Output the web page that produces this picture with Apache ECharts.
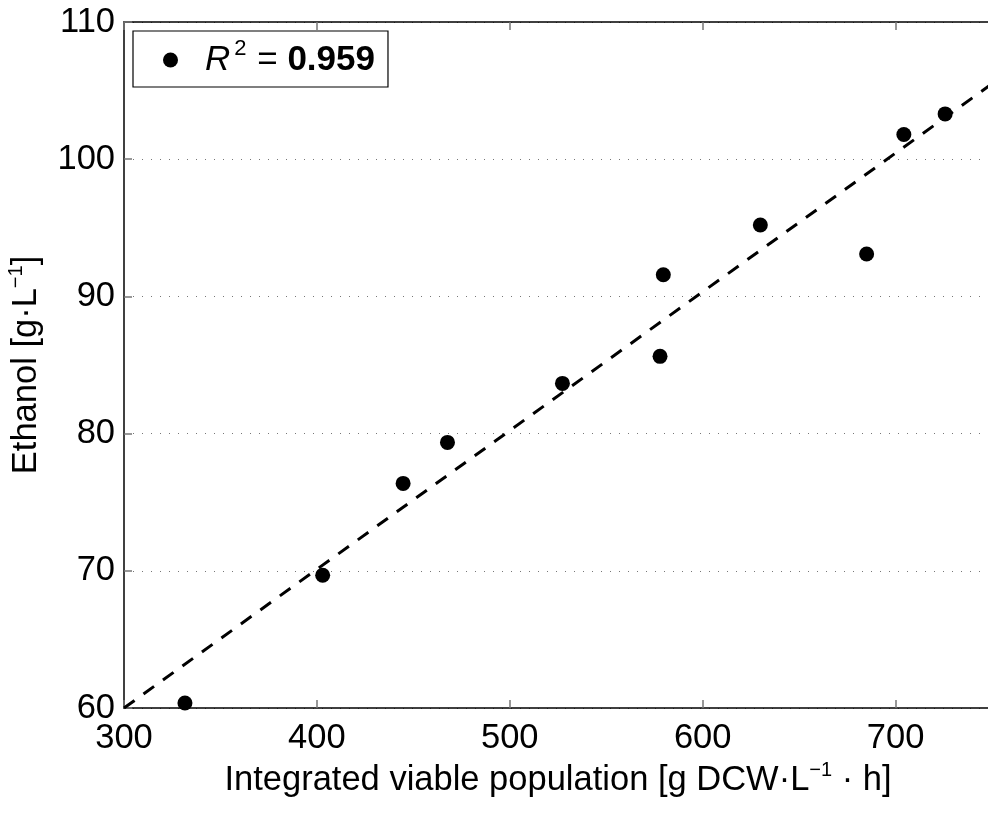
<!DOCTYPE html>
<html>
<head>
<meta charset="utf-8">
<script src="https://cdn.jsdelivr.net/npm/echarts@6/dist/echarts.min.js"></script>
<style>
html,body{margin:0;padding:0;background:#fff;}
#chart{width:988px;height:819px;}
</style>
</head>
<body>
<div id="chart"></div>
<script>
// Data
const populationX = [331.6, 403.0, 444.7, 467.7, 527.3, 577.9, 579.6, 629.9, 685.0, 704.3, 725.7];
const ethanolY    = [60.36, 69.68, 76.37, 79.36, 83.66, 85.63, 91.58, 95.20, 93.09, 101.8, 103.3];
const fitX = [300, 750];
const fitY = [60, 105.5];
const xTicks = [300, 400, 500, 600, 700];
const yTicks = [60, 70, 80, 90, 100, 110];
const r2Value = '0.959';

const FONT = "'Liberation Sans', Arial, Helvetica, sans-serif";
const FS = 34.5;

const chart = echarts.init(document.getElementById('chart'), null, {renderer: 'canvas'});

const supStyle = {fontSize: 20, lineHeight: 16, padding: [0, 0, 20, 0], verticalAlign: 'middle', fontFamily: FONT, color: '#000'};

const option = {
  animation: false,
  backgroundColor: '#fff',
  textStyle: {fontFamily: FONT},
  grid: {left: 124, top: 22, right: -4, bottom: 111, containLabel: false, outerBoundsMode: 'none'},
  legend: {
    data: ['R2'],
    left: 133, top: 31,
    orient: 'horizontal',
    backgroundColor: '#fff',
    borderColor: '#000', borderWidth: 1.2,
    padding: [7, 13, 5, 30],
    itemWidth: 15, itemHeight: 15,
    icon: 'circle',
    selectedMode: false,
    itemStyle: {color: '#000', opacity: 1},
    formatter: function () {
      return '{g|}{i|R}{sup|2}{t| = }{b|' + r2Value + '}';
    },
    textStyle: {
      fontFamily: FONT, fontSize: 34, color: '#000', lineHeight: 36,
      rich: {
        g: {width: 22, lineHeight: 36},
        i: {fontStyle: 'italic', fontSize: 35, lineHeight: 36, verticalAlign: 'middle', fontFamily: FONT, color: '#000'},
        sup: {fontSize: 22, lineHeight: 14, verticalAlign: 'middle', padding: [0, 1, 22, 4], fontFamily: FONT, color: '#000'},
        t: {fontSize: 35, lineHeight: 36, verticalAlign: 'middle', fontFamily: FONT, color: '#000'},
        b: {fontWeight: 'bold', fontSize: 35, lineHeight: 36, verticalAlign: 'middle', fontFamily: FONT, color: '#000'}
      }
    }
  },
  xAxis: [{
    type: 'value', min: 300, max: 750, interval: 100,
    position: 'bottom',
    name: 'Integrated viable population [g DCW·L{sup|−1} · h]',
    nameLocation: 'middle', nameGap: 48,
    nameTextStyle: {fontSize: FS, color: '#000', fontFamily: FONT, lineHeight: 36, verticalAlign: 'top', rich: {sup: supStyle}},
    axisLine: {show: true, onZero: false, lineStyle: {color: '#000', width: 1.5}},
    axisTick: {show: true, inside: true, length: 8, lineStyle: {color: '#777', width: 1.5}},
    axisLabel: {show: true, fontSize: FS, color: '#000', fontFamily: FONT, margin: 13,
      customValues: xTicks},
    splitLine: {show: false}
  }, {
    type: 'value', min: 300, max: 750, interval: 100,
    position: 'top',
    axisLine: {show: true, onZero: false, lineStyle: {color: '#000', width: 1.5}},
    axisTick: {show: true, inside: true, length: 8, lineStyle: {color: '#777', width: 1.5}},
    axisLabel: {show: false},
    splitLine: {show: false}
  }],
  yAxis: [{
    type: 'value', min: 60, max: 110, interval: 10,
    position: 'left',
    name: 'Ethanol [g·L{sup|−1}]',
    nameLocation: 'middle', nameGap: 77, nameRotate: 90,
    nameTextStyle: {fontSize: FS, color: '#000', fontFamily: FONT, lineHeight: 36, rich: {sup: supStyle}},
    axisLine: {show: true, onZero: false, lineStyle: {color: '#000', width: 1.5}},
    axisTick: {show: true, inside: true, length: 8, lineStyle: {color: '#777', width: 1.5}},
    axisLabel: {show: true, fontSize: FS, color: '#000', fontFamily: FONT, margin: 9,
      customValues: yTicks},
    splitLine: {show: true, lineStyle: {color: '#777', width: 1, type: [1, 8]}}
  }],
  series: [{
    name: 'fit',
    type: 'line',
    data: fitX.map((x, i) => [x, fitY[i]]),
    showSymbol: false,
    symbol: 'none',
    lineStyle: {color: '#000', width: 3, type: [13, 11]},
    silent: true,
    z: 2
  }, {
    name: 'R2',
    type: 'scatter',
    data: populationX.map((x, i) => [x, ethanolY[i]]),
    symbol: 'circle',
    symbolSize: 15,
    itemStyle: {color: '#000', opacity: 1},
    z: 3
  }]
};

chart.setOption(option);
</script>
</body>
</html>
